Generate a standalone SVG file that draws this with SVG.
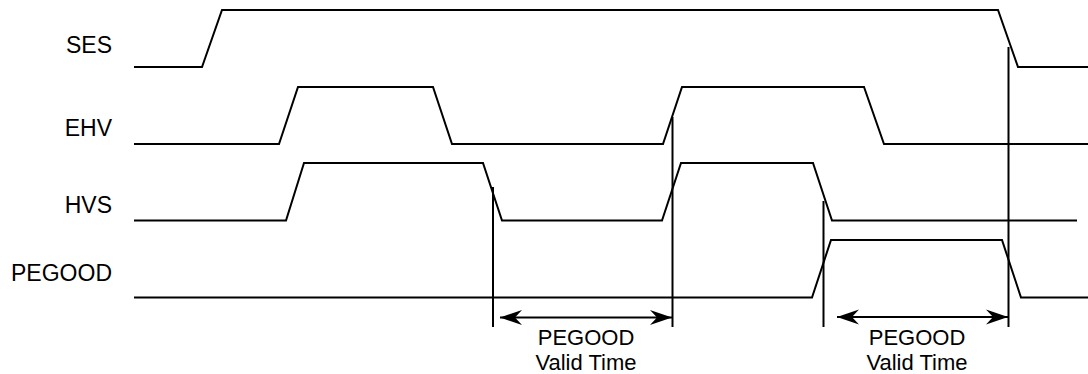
<svg xmlns="http://www.w3.org/2000/svg" width="1088" height="374" viewBox="0 0 1088 374">
<style>
.sig{fill:none;stroke:#000;stroke-width:2;stroke-linejoin:miter}
.mk{fill:none;stroke:#000;stroke-width:2}
.dim{fill:none;stroke:#000;stroke-width:2;marker-start:url(#ah);marker-end:url(#ah)}
text{font-family:"Liberation Sans",Arial,sans-serif;font-size:23px;fill:#000}
.lbl{text-anchor:end}
.note{text-anchor:middle;font-size:22px}
</style>
<defs>
<marker id="ah" markerUnits="userSpaceOnUse" viewBox="0 0 22 16" markerWidth="22" markerHeight="16" refX="22" refY="8" orient="auto-start-reverse">
<path d="M0,0.5 L22,8 L0,15.5 L7,8 z" fill="#000"/>
</marker>
</defs>
<rect width="1088" height="374" fill="#fff"/>
<g id="labels">
<text class="lbl" x="112" y="53">SES</text>
<text class="lbl" x="112" y="136">EHV</text>
<text class="lbl" x="112" y="213">HVS</text>
<text class="lbl" x="112" y="281">PEGOOD</text>
</g>
<g id="SES"><polyline class="sig" points="134,67 202,67 222,10 998,10 1018,67 1088,67"/></g>
<g id="EHV"><polyline class="sig" points="134,144 279,144 298,87 433,87 452,144 663,144 682,87 864,87 884,144 1088,144"/></g>
<g id="HVS"><polyline class="sig" points="134,220.5 286,220.5 304,163 483,163 502,220.5 662,220.5 681,163 813,163 832,220.5 1077,220.5"/></g>
<g id="PEGOOD"><polyline class="sig" points="134,297.5 812,297.5 831,240 1002,240 1021,297.5 1088,297.5"/></g>
<g id="connectors">
<line class="mk" x1="493" y1="187" x2="493" y2="327"/>
<line class="mk" x1="672.5" y1="117" x2="672.5" y2="327"/>
<line class="mk" x1="823.5" y1="201" x2="823.5" y2="327"/>
<line class="mk" x1="1008.5" y1="47" x2="1008.5" y2="327"/>
<line class="dim" x1="500" y1="317.5" x2="672" y2="317.5"/>
<line class="dim" x1="837" y1="317" x2="1008" y2="317"/>
</g>
<g id="notes">
<text class="note" x="586" y="345">PEGOOD</text>
<text class="note" x="586" y="370">Valid Time</text>
<text class="note" x="917" y="345">PEGOOD</text>
<text class="note" x="917" y="370">Valid Time</text>
</g>
</svg>
